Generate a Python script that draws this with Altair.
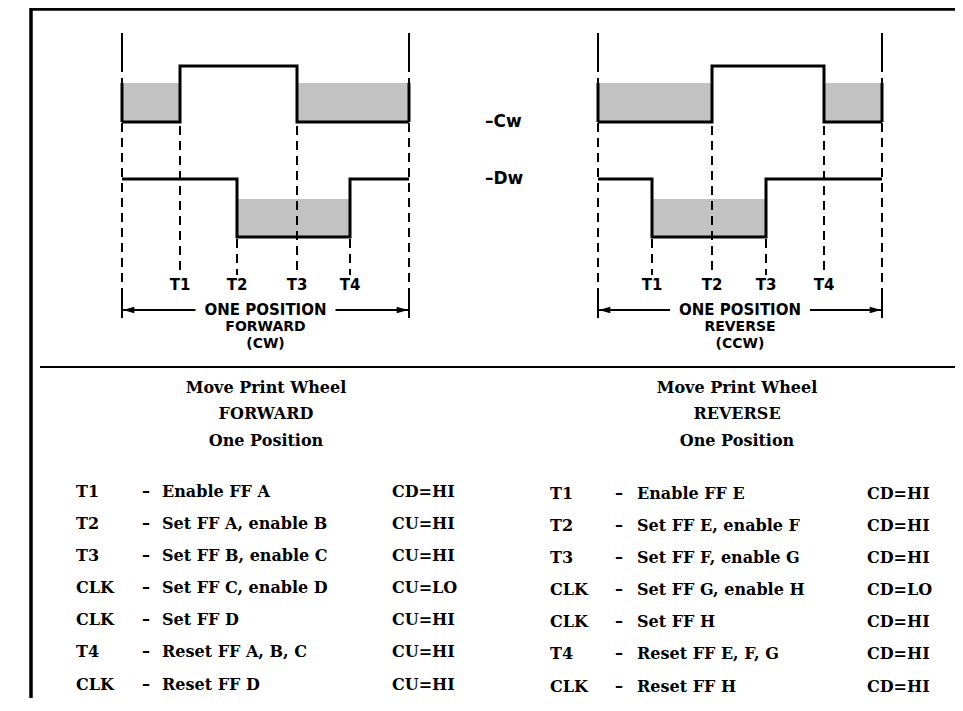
import altair as alt
import pandas as pd

# ---------------- data (reference-pixel units) ----------------
FWD_EDGES = [122, 180, 237, 297, 350, 409]   # start, T1, T2, T3, T4, end
REV_EDGES = [598, 652, 712, 766, 824, 882]
FWD_CW = ["L", "H", "H", "L", "L"]            # state in each of the 5 segments
FWD_DW = ["H", "H", "L", "L", "H"]
REV_CW = ["L", "L", "H", "H", "L"]
REV_DW = ["H", "L", "L", "H", "H"]
CW_LEVEL = {"H": 66, "L": 122, "band": 83}
DW_LEVEL = {"H": 179, "L": 237, "band": 199}
T_LABELS = ["T1", "T2", "T3", "T4"]
DIR_LABELS = ["FORWARD", "REVERSE"]
DIR_SUB = ["(CW)", "(CCW)"]
SIGNAL_LABELS = ["–Cw", "–Dw"]

HEAD_LINES_FWD = ["Move Print Wheel", "FORWARD", "One Position"]
HEAD_LINES_REV = ["Move Print Wheel", "REVERSE", "One Position"]

FWD_CODES = ["T1", "T2", "T3", "CLK", "CLK", "T4", "CLK"]
FWD_DESC = ["Enable FF A", "Set FF A, enable B", "Set FF B, enable C",
            "Set FF C, enable D", "Set FF D", "Reset FF A, B, C", "Reset FF D"]
FWD_VAL = ["CD=HI", "CU=HI", "CU=HI", "CU=LO", "CU=HI", "CU=HI", "CU=HI"]
REV_CODES = ["T1", "T2", "T3", "CLK", "CLK", "T4", "CLK"]
REV_DESC = ["Enable FF E", "Set FF E, enable F", "Set FF F, enable G",
            "Set FF G, enable H", "Set FF H", "Reset FF E, F, G", "Reset FF H"]
REV_VAL = ["CD=HI", "CD=HI", "CD=HI", "CD=LO", "CD=HI", "CD=HI", "CD=HI"]
ROW_Y = [492, 524, 556, 588, 620, 652, 685]

# ---------------- scales: 1 unit = 1 reference pixel ----------------
XS = alt.Scale(domain=[8, 955], nice=False, zero=False)
YS = alt.Scale(domain=[8, 698], reverse=True, nice=False, zero=False)


def X(f="x"):
    return alt.X(f"{f}:Q", scale=XS, axis=None)


def Y(f="y"):
    return alt.Y(f"{f}:Q", scale=YS, axis=None)


diagrams = [
    (FWD_EDGES, FWD_CW, FWD_DW),
    (REV_EDGES, REV_CW, REV_DW),
]

wave_pts, bands, band_edges, t_lines, outer, t_text = [], [], [], [], [], []
for di, (edges, cw, dw) in enumerate(diagrams):
    for sname, states, lev in (("cw", cw, CW_LEVEL), ("dw", dw, DW_LEVEL)):
        key = f"{di}{sname}"
        for k, s in enumerate(states):
            wave_pts.append({"k": key, "o": k, "x": edges[k], "y": lev[s]})
            if s == "L":
                bands.append({"x": edges[k], "x2": edges[k + 1], "y": lev["band"], "y2": lev["L"]})
        wave_pts.append({"k": key, "o": 5, "x": edges[5], "y": lev[states[-1]]})
        if states[0] == "L":
            band_edges.append({"x": edges[0], "y": lev["band"], "y2": lev["L"]})
        if states[-1] == "L":
            band_edges.append({"x": edges[5], "y": lev["band"], "y2": lev["L"]})
    for i in range(1, 5):
        if cw[i] != cw[i - 1]:
            top = CW_LEVEL["H"]
        else:
            top = DW_LEVEL["H"]
        t_lines.append({"x": edges[i], "y": top, "y2": 275})
        t_text.append({"x": edges[i], "y": 285, "t": T_LABELS[i - 1]})
    for xe in (edges[0], edges[5]):
        outer.append({"x": xe, "y": 33, "y2": 318})

solid_ends = []
for edges in (FWD_EDGES, REV_EDGES):
    for xe in (edges[0], edges[5]):
        solid_ends.append({"x": xe, "y": 33, "y2": 68})
        solid_ends.append({"x": xe, "y": 292, "y2": 318})

wave_df = pd.DataFrame(wave_pts)
bands_df = pd.DataFrame(bands)

bands_l = alt.Chart(bands_df).mark_rect(fill="#c2c2c2").encode(
    x=X(), x2="x2", y=Y(), y2="y2")

band_edge_l = alt.Chart(pd.DataFrame(band_edges)).mark_rule(strokeWidth=3, color="black").encode(
    x=X(), y=Y(), y2="y2")

t_lines_l = alt.Chart(pd.DataFrame(t_lines)).mark_rule(
    strokeWidth=2, color="black", strokeDash=[9, 6]).encode(x=X(), y=Y(), y2="y2")

outer_l = alt.Chart(pd.DataFrame(outer)).mark_rule(
    strokeWidth=2, color="black", strokeDash=[9, 6]).encode(x=X(), y=Y(), y2="y2")

solid_l = alt.Chart(pd.DataFrame(solid_ends)).mark_rule(
    strokeWidth=2, color="black").encode(x=X(), y=Y(), y2="y2")

wave_l = alt.Chart(wave_df).mark_line(
    interpolate="step-after", strokeWidth=3, color="black").encode(
    x=X(), y=Y(), detail="k:N", order="o:Q")

t_text_l = alt.Chart(pd.DataFrame(t_text)).mark_text(
    font="DejaVu Sans", fontWeight="bold", fontSize=15, baseline="middle", align="center"
).encode(x=X(), y=Y(), text="t:N")

# arrows "ONE POSITION"
ARROW_Y = 310
arrow_rules, arrow_heads_l, arrow_heads_r, arrow_text, dir_text = [], [], [], [], []
for di, edges in enumerate((FWD_EDGES, REV_EDGES)):
    mid = (edges[0] + edges[5]) / 2
    arrow_rules.append({"x": edges[0], "x2": mid - 70, "y": ARROW_Y})
    arrow_rules.append({"x": mid + 70, "x2": edges[5], "y": ARROW_Y})
    arrow_heads_l.append({"x": edges[0] + 1, "y": ARROW_Y})
    arrow_heads_r.append({"x": edges[5] - 1, "y": ARROW_Y})
    arrow_text.append({"x": mid, "y": ARROW_Y, "t": "ONE POSITION"})
    dir_text.append({"x": mid, "y": 327, "t": DIR_LABELS[di]})
    dir_text.append({"x": mid, "y": 344, "t": DIR_SUB[di]})

arrow_rule_l = alt.Chart(pd.DataFrame(arrow_rules)).mark_rule(strokeWidth=2, color="black").encode(
    x=X(), x2="x2", y=Y())
head_l = alt.Chart(pd.DataFrame(arrow_heads_l)).mark_point(
    shape="M0,0L1.6,-0.45L1.6,0.45Z", size=200, filled=True, color="black", opacity=1).encode(x=X(), y=Y())
head_r = alt.Chart(pd.DataFrame(arrow_heads_r)).mark_point(
    shape="M0,0L-1.6,-0.45L-1.6,0.45Z", size=200, filled=True, color="black", opacity=1).encode(x=X(), y=Y())
arrow_text_l = alt.Chart(pd.DataFrame(arrow_text)).mark_text(
    font="DejaVu Sans", fontWeight="bold", fontSize=15, baseline="middle", align="center"
).encode(x=X(), y=Y(), text="t:N")
dir_text_l = alt.Chart(pd.DataFrame(dir_text)).mark_text(
    font="DejaVu Sans", fontWeight="bold", fontSize=14, baseline="middle", align="center"
).encode(x=X(), y=Y(), text="t:N")

sig_df = pd.DataFrame({"x": [485, 485], "y": [CW_LEVEL["L"], DW_LEVEL["H"]], "t": SIGNAL_LABELS})
sig_l = alt.Chart(sig_df).mark_text(
    font="DejaVu Sans", fontWeight="bold", fontSize=17, baseline="middle", align="left"
).encode(x=X(), y=Y(), text="t:N")

# frame and separator
frame_df = pd.DataFrame([
    {"x": 30, "x2": 963, "y": 9, "y2": 9},
    {"x": 31, "x2": 31, "y": 8, "y2": 711},
])
frame_l = alt.Chart(frame_df).mark_rule(strokeWidth=3.5, color="black").encode(
    x=X(), x2="x2", y=Y(), y2="y2")
sep_df = pd.DataFrame([{"x": 40, "x2": 963, "y": 367}])
sep_l = alt.Chart(sep_df).mark_rule(strokeWidth=2, color="black").encode(x=X(), x2="x2", y=Y())

# headings
head_rows = []
for cx, lines in ((266, HEAD_LINES_FWD), (737, HEAD_LINES_REV)):
    for yy, t in zip((388, 414, 441), lines):
        head_rows.append({"x": cx, "y": yy, "t": t})
heading_l = alt.Chart(pd.DataFrame(head_rows)).mark_text(
    font="DejaVu Serif", fontWeight="bold", fontSize=16, baseline="middle", align="center"
).encode(x=X(), y=Y(), text="t:N")

# table
tab = []
for (cx_code, cx_dash, cx_desc, cx_val, dy, codes, desc, vals) in (
    (76, 142, 162, 392, 0, FWD_CODES, FWD_DESC, FWD_VAL),
    (550, 615, 637, 867, 2, REV_CODES, REV_DESC, REV_VAL),
):
    for yy, c, d, v in zip(ROW_Y, codes, desc, vals):
        tab.append({"x": cx_code, "y": yy + dy, "t": c})
        tab.append({"x": cx_dash, "y": yy + dy, "t": "–"})
        tab.append({"x": cx_desc, "y": yy + dy, "t": d})
        tab.append({"x": cx_val, "y": yy + dy, "t": v})
table_l = alt.Chart(pd.DataFrame(tab)).mark_text(
    font="DejaVu Serif", fontWeight="bold", fontSize=16, baseline="middle", align="left", color="black"
).encode(x=X(), y=Y(), text="t:N")

chart = alt.layer(
    bands_l, band_edge_l, t_lines_l, outer_l, solid_l, wave_l, t_text_l,
    arrow_rule_l, head_l, head_r, arrow_text_l, dir_text_l, sig_l, frame_l, sep_l,
    heading_l, table_l,
).properties(
    width=947, height=690, padding=0, autosize=alt.AutoSizeParams(type="none"),
    background="white",
).configure_view(stroke=None)

chart.save("out.html", embed_options={"renderer": "svg", "actions": False})
